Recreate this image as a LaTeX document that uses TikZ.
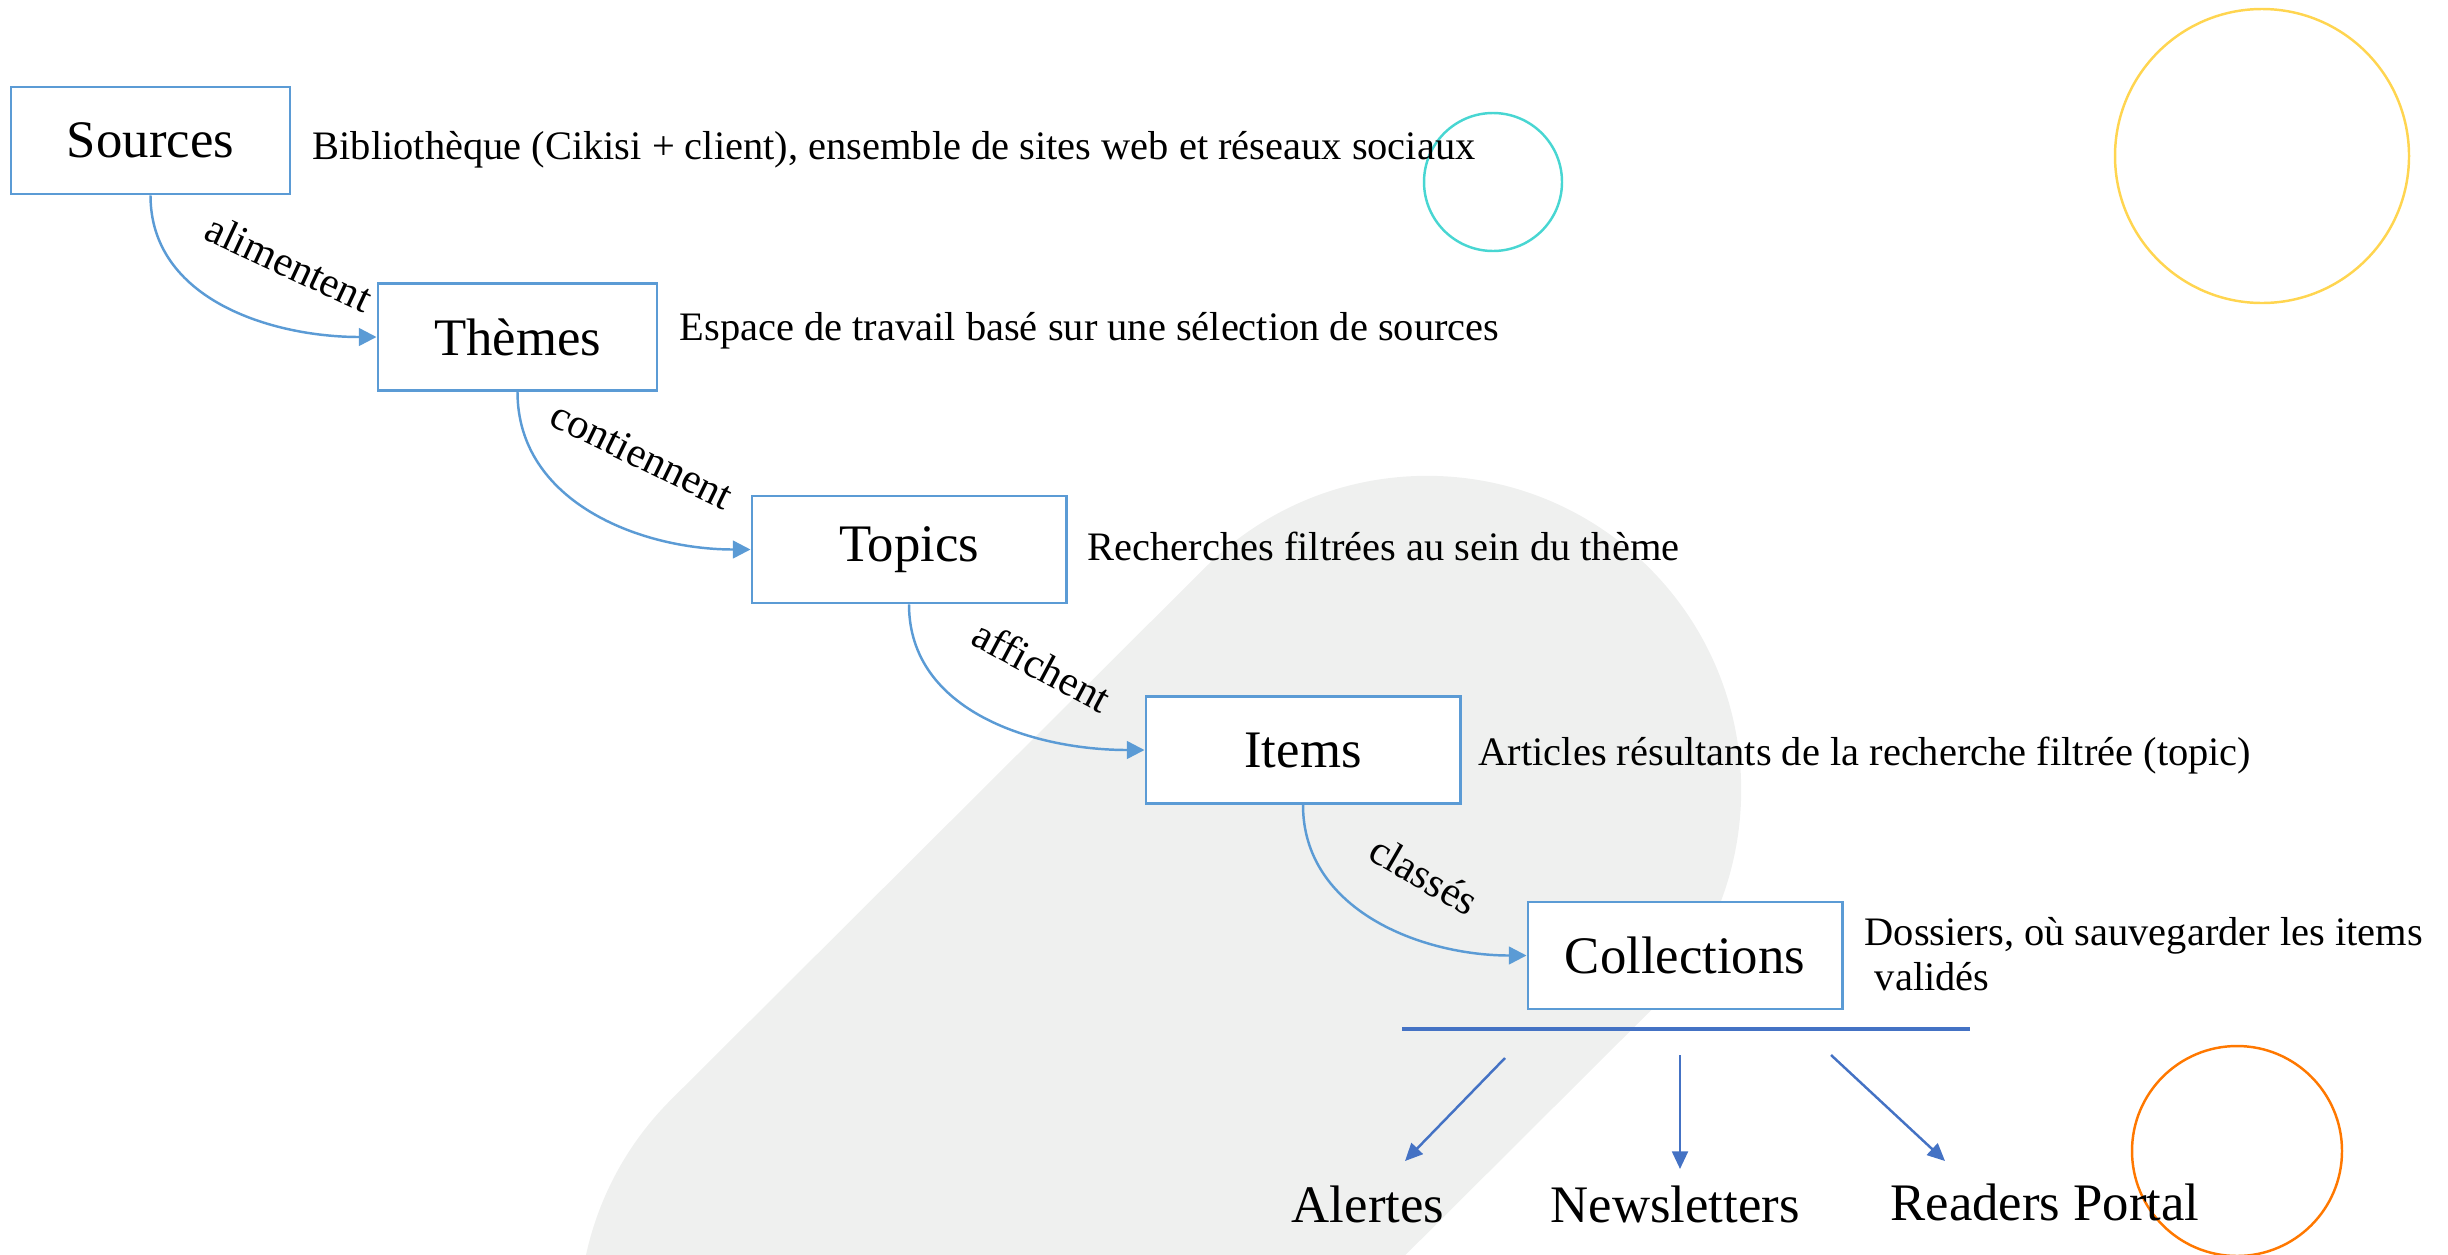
\documentclass[tikz,border=0pt]{standalone}
\usepackage{fontspec}
\setmainfont{Liberation Serif}
\usepackage{tikz}
\usetikzlibrary{arrows.meta}
\usetikzlibrary{positioning}

\definecolor{boxblue}{RGB}{91,155,213}
\definecolor{darkblue}{RGB}{68,114,196}
\definecolor{bandgray}{RGB}{239,240,239}
\definecolor{ringcyan}{RGB}{72,214,210}
\definecolor{ringyellow}{RGB}{255,213,80}
\definecolor{ringorange}{RGB}{255,120,0}

\tikzset{
  box/.style={rectangle,draw=boxblue,line width=0.8pt,fill=white,inner sep=0pt,minimum height=1.07cm,font=\fontsize{15}{18}\selectfont},
  desc/.style={anchor=west,inner sep=0pt,font=\fontsize{11.5}{12.6}\selectfont},
  lbl/.style={inner sep=0pt,font=\fontsize{12}{14}\selectfont},
  flow/.style={draw=boxblue,line width=0.7pt,-{Triangle[length=5pt,width=5pt]}},
  outarrow/.style={draw=darkblue,line width=0.7pt,-{Triangle[length=5pt,width=4.5pt]}},
  ring/.style={line width=0.7pt}
}

\begin{document}
\begin{tikzpicture}[x=0.01cm,y=0.01cm]
\useasboundingbox (0,0) rectangle (2448,-1254);
\clip (0,0) rectangle (2448,-1254);
% background
\draw[bandgray,line width=6.28cm,line cap=round] (893,-1322) -- (1427,-790);
\draw[ring,ringcyan] (1493,-182) circle (69);
\draw[ring,ringyellow] (2262,-156) circle (147);
\draw[ring,ringorange] (2237,-1151) circle (105);

% chain
\node at (150.5,-140.5)[box,minimum width=2.79cm](src){Sources};
\node at (517.5,-337)[box,minimum width=2.79cm](thm){Thèmes};
\node at (909,-549.5)[box,minimum width=3.14cm](top){Topics};
\node at (1303,-750)[box,minimum width=3.14cm](itm){Items};
\node at (1685,-955.5)[box,minimum width=3.14cm](col){Collections};

\node at (312,-150)[desc](srcd){Bibliothèque (Cikisi + client), ensemble de sites web et réseaux sociaux};
\node at (679,-331)[desc](thmd){Espace de travail basé sur une sélection de sources};
\node at (1087,-546)[desc](topd){Recherches filtrées au sein du thème};
\node at (1478,-756)[desc](itmd){Articles résultants de la recherche filtrée (topic)};
\node at (1864,-954)[desc,align=left](cold){Dossiers, où sauvegarder les items\\\ validés};

\draw[flow] (src.south) to[out=-90,in=180] (thm.west);
\draw[flow] (thm.south) to[out=-90,in=180] (top.west);
\draw[flow] (top.south) to[out=-90,in=180] (itm.west);
\draw[flow] (itm.south) to[out=-90,in=180] (col.west);

\node at (289,-263)[lbl,rotate=-25](alim){alimentent};
\node at (642,-455)[lbl,rotate=-26](cont){contiennent};
\node at (1042,-666)[lbl,rotate=-28](aff){affichent};
\node at (1424,-875)[lbl,rotate=-30](cls){classés};

% outputs
\coordinate (barL) at (1402,-1029);
\coordinate (barR) at (1970,-1029);
\draw[darkblue,line width=1.2pt] (barL) -- (barR);

\node at (1368,-1204)[lbl,font=\fontsize{15}{18}\selectfont](alt){Alertes};
\node at (1675,-1204)[lbl,font=\fontsize{15}{18}\selectfont](nws){Newsletters};
\node at (2045,-1202)[lbl,font=\fontsize{15}{18}\selectfont](rdp){Readers Portal};

\coordinate (a1) at (1505,-1058);
\coordinate (a2) at (1405,-1161);
\coordinate (b1) at (1680,-1055);
\coordinate (b2) at (1680,-1169);
\coordinate (c1) at (1831,-1055);
\coordinate (c2) at (1945,-1161);
\draw[outarrow] (a1) -- (a2);
\draw[outarrow] (b1) -- (b2);
\draw[outarrow] (c1) -- (c2);
\end{tikzpicture}
\end{document}
